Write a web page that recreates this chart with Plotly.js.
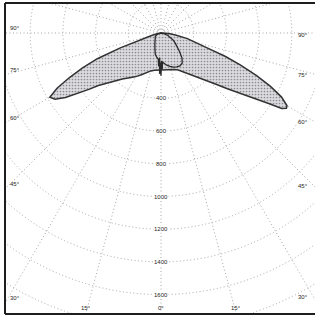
<!DOCTYPE html>
<html>
<head>
<meta charset="utf-8">
<script src="https://cdn.plot.ly/plotly-3.0.1.min.js"></script>
<style>
html,body{margin:0;padding:0;background:#fff;overflow:hidden;}
#chart{width:315px;height:317px;}
</style>
</head>
<body>
<div id="chart"></div>
<script>
// Plane A (wide batwing), angle in degrees from nadir (negative = left), intensity in cd
const anglesA = [-90,-85,-80,-76,-73,-72,-70,-68,-66,-64,-62,-60,-58,-56,-54,-52,-50,-45,-40,-35,-30,-25,-20,-15,-10,-5,0,
                 5,10,15,20,25,30,35,40,43,47,50,52,54,56,57,58,59,60,62,64,66,68,70,72,75,78,82,86,90];
const valuesA = [0,8,25,55,100,125,265,420,525,625,720,785,765,705,630,560,500,420,368,334,308,282,255,240,232,228,226,
                 228,230,232,238,250,275,315,360,395,460,530,585,650,730,800,870,895,890,835,745,640,525,420,300,220,165,95,50,0];

// Plane B (narrow curve drawn inside)
const anglesB = [-90,-75,-60,-45,-30,-20,-15,-10,-6,-4,-3,-2,-1,0,1,2,3,5,10,15,20,25,30,35,40,45,50,55,60,70,80,90];
const valuesB = [0,20,40,52,75,108,135,150,160,205,150,250,180,262,170,222,176,185,200,212,222,228,232,226,200,160,130,105,85,45,15,0];

// Grid ticks
const radialTicks = [200,400,600,800,1000,1200,1400,1600,1800,2000];
const radialLabels = ['400','600','800','1000','1200','1400','1600'];
const radialLabelValues = [400,600,800,1000,1200,1400,1600];
const angleTicks = [0,15,30,45,60,75,90,105,120,135,150,165,180,195,210,225,240,255,270,285,300,315,330,345];
const sideLabelAngles = [90,75,60,45,30];
const bottomLabelAngles = [15,0];

const rad = d => d*Math.PI/180;
function toXY(ang, val){
  return {x: val.map((v,i)=>v*Math.sin(rad(ang[i]))), y: val.map((v,i)=>-v*Math.cos(rad(ang[i])))};
}
const A = toXY(anglesA, valuesA);
const B = toXY(anglesB, valuesB);

// axis ranges (cd), center of diagram at the origin
const pxPerCd = 0.1635;
const W = 315, H = 317, ml = 5, mr = 0, mt = 3, mb = 3;
const cx = 161, cy = 33;
const xmin = -(cx-ml)/pxPerCd, xmax = (W-mr-cx)/pxPerCd;
const ymax = (cy-mt)/pxPerCd, ymin = -(H-mb-cy)/pxPerCd;

const gridLine = {color:'#a6a6a6', width:1, dash:'1px,2.5px'};
const shapes = [];
radialTicks.forEach(r=>{
  shapes.push({type:'circle', xref:'x', yref:'y', x0:-r, x1:r, y0:-r, y1:r, line:gridLine, layer:'below'});
});
angleTicks.forEach(a=>{
  const R = 4000;
  shapes.push({type:'line', xref:'x', yref:'y', x0:0, y0:0, x1:R*Math.sin(rad(a)), y1:-R*Math.cos(rad(a)), line:gridLine, layer:'below'});
});
// frame
const frame = {color:'#1e1e1e', width:2};
shapes.push({type:'line', xref:'paper', yref:'paper', x0:0, x1:0, y0:0, y1:1, line:frame});
shapes.push({type:'line', xref:'paper', yref:'paper', x0:0, x1:1, y0:1, y1:1, line:frame});
shapes.push({type:'line', xref:'paper', yref:'paper', x0:0, x1:1, y0:0, y1:0, line:frame});

const lblFont = {family:'Liberation Sans, Arial, sans-serif', size:6, color:'#262626'};
const annotations = [];
radialLabels.forEach((t,i)=>{
  annotations.push({x:0, y:-radialLabelValues[i], xref:'x', yref:'y', text:t, showarrow:false,
    font:lblFont, bgcolor:'#ffffff', borderpad:0, xanchor:'center', yanchor:'middle'});
});
const xRight = (312-cx)/pxPerCd;
sideLabelAngles.forEach(a=>{
  const t = Math.tan(rad(a));
  // left side
  annotations.push({x:xmin, y: (a===90?0:xmin/t), xref:'x', yref:'y', text:a+'°', showarrow:false,
    font:lblFont, xanchor:'left', yanchor:'bottom', xshift:3, yshift:0});
  // right side
  annotations.push({x:xRight, y: (a===90?0:-xRight/t), xref:'x', yref:'y', text:a+'°', showarrow:false,
    font:lblFont, xanchor:'right', yanchor:'middle', xshift:-2, yshift:-2});
});
bottomLabelAngles.forEach(a=>{
  const dx = -ymin*Math.tan(rad(a));
  const xs = a===0 ? [0] : [-dx, dx];
  xs.forEach(x=>{
    annotations.push({x:x, y:ymin, xref:'x', yref:'y', text:a+'°', showarrow:false,
      font:lblFont, xanchor:'center', yanchor:'bottom', yshift:1});
  });
});

const traces = [
  {x:A.x, y:A.y, type:'scatter', mode:'lines', fill:'toself',
   fillcolor:'#d2d2d6',
   fillpattern:{shape:'.', fgcolor:'#8c8c92', bgcolor:'#dcdce0', size:3, solidity:0.25},
   line:{color:'#333333', width:1.5}, hoverinfo:'skip'},
  {x:B.x, y:B.y, type:'scatter', mode:'lines',
   line:{color:'#2a2a2a', width:1.3}, hoverinfo:'skip'}
];

const axisCommon = {showgrid:false, zeroline:false, showticklabels:false, ticks:'', showline:false, fixedrange:true};
const layout = {
  width:W, height:H,
  margin:{l:ml, r:mr, t:mt, b:mb, pad:0},
  paper_bgcolor:'#ffffff', plot_bgcolor:'#ffffff',
  showlegend:false,
  xaxis:Object.assign({range:[xmin,xmax]}, axisCommon),
  yaxis:Object.assign({range:[ymin,ymax]}, axisCommon),
  shapes:shapes,
  annotations:annotations
};
Plotly.newPlot('chart', traces, layout, {staticPlot:true, displayModeBar:false});
</script>
</body>
</html>
